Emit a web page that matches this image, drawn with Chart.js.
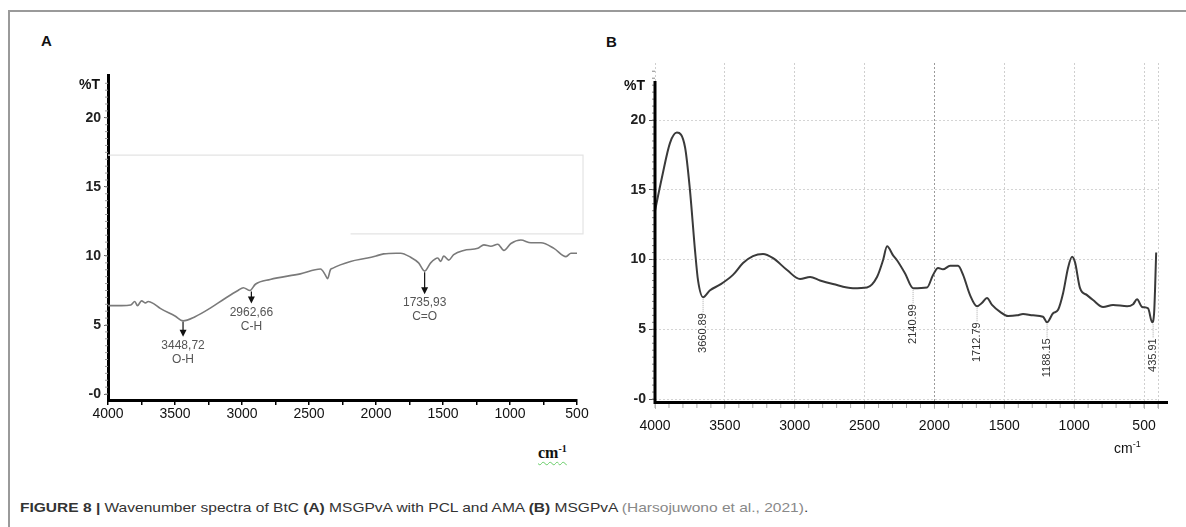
<!DOCTYPE html>
<html><head><meta charset="utf-8">
<script src="https://cdn.jsdelivr.net/npm/chart.js@4.4.0/dist/chart.umd.min.js"></script>
<style>
html,body{margin:0;padding:0;background:#fff;}
body{width:1186px;height:527px;position:relative;overflow:hidden;font-family:"Liberation Sans",Arial,sans-serif;}
#frameTop{position:absolute;left:8px;top:10px;width:1178px;height:2px;background:#9a9a9a;}
#frameLeft{position:absolute;left:8px;top:10px;width:2px;height:517px;background:#9a9a9a;}
.wrap{position:absolute;}
#wa{left:0;top:0;width:600px;height:440px;}
#wb{left:590px;top:0;width:596px;height:440px;}
.panel{position:absolute;font-weight:bold;font-size:15px;color:#111;}
#cmA{position:absolute;left:538px;top:443px;font-family:"Liberation Serif","DejaVu Serif",serif;font-weight:bold;font-size:16px;color:#111;text-decoration:underline wavy #6c6;text-underline-offset:3px;text-decoration-thickness:1px;}
#cmA sup{font-size:10px;}
#cmB{position:absolute;left:1114px;top:439px;font-size:14px;color:#111;}
#cmB sup{font-size:9px;}
#cap{position:absolute;left:20px;top:500px;font-size:13px;color:#333;white-space:nowrap;transform-origin:0 0;}
#cap .g{color:#888;}
</style></head>
<body>
<div id="frameTop"></div><div id="frameLeft"></div>
<div class="panel" style="left:41px;top:32px;">A</div>
<div class="panel" style="left:606px;top:33px;">B</div>
<div class="wrap" id="wa"><canvas id="ca" width="600" height="440"></canvas></div>
<div class="wrap" id="wb"><canvas id="cb" width="596" height="440"></canvas></div>
<div id="cmA">cm<sup>-1</sup></div>
<div id="cmB">cm<sup>-1</sup></div>
<div id="cap"><b>FIGURE 8 |</b> Wavenumber spectra of BtC <b>(A)</b> MSGPvA with PCL and AMA <b>(B)</b> MSGPvA <span class="g">(Harsojuwono et al., 2021)</span>.</div>
<script>
// ---------- data ----------
const wnA = [4000,3900,3830,3800,3780,3750,3720,3700,3660,3610,3500,3440,3350,3240,3130,3030,2990,2940,2900,2790,2565,2414,2377,2362,2340,2325,2190,2063,2000,1943,1850,1816,1741,1682,1637,1592,1539,1517,1495,1457,1420,1345,1240,1195,1143,1091,1046,993,919,844,769,672,582,545,500];
const tA = [6.4,6.4,6.45,6.7,6.4,6.75,6.6,6.7,6.55,6.2,5.65,5.3,5.6,6.2,6.9,7.5,7.7,7.5,7.95,8.3,8.7,9.05,8.6,8.35,9.0,9.1,9.6,9.85,10.0,10.15,10.2,10.2,9.9,9.5,8.9,9.5,9.85,9.6,10.0,9.7,10.1,10.4,10.55,10.8,10.7,10.85,10.4,10.9,11.15,10.95,10.95,10.55,9.95,10.2,10.2];

const wnB = [4000,3950,3893,3843,3785,3750,3714,3692,3656,3606,3535,3442,3370,3299,3227,3155,3055,2962,2890,2819,2726,2583,2483,2411,2368,2339,2296,2268,2210,2153,2053,2010,1974,1939,1888,1831,1795,1745,1695,1659,1624,1588,1530,1473,1409,1366,1294,1223,1194,1151,1115,1079,1044,1015,994,958,908,865,793,722,621,578,550,514,471,442,428,413];
const tB = [13.5,15.9,18.35,19.1,18.05,15.0,10.7,8.5,7.3,7.8,8.2,8.9,9.75,10.25,10.4,10.1,9.25,8.6,8.75,8.5,8.25,7.95,8.0,8.75,9.95,10.95,10.3,9.95,9.0,7.95,8.0,8.9,9.4,9.3,9.55,9.55,8.9,7.45,6.65,6.9,7.25,6.75,6.25,5.95,6.0,6.1,6.0,5.9,5.5,6.15,6.4,7.6,9.4,10.2,9.8,7.95,7.45,7.1,6.6,6.75,6.65,6.8,7.15,6.6,6.5,5.5,6.15,10.5];

const yTickVals = [0,5,10,15,20];
const xTicksA = [4000,3750,3500,3250,3000,2750,2500,2250,2000,1750,1500,1250,1000,750,500];
const xTicksB = [4000,3500,3000,2500,2000,1500,1000,500,400];

// annotated bands
const annWnA = [3440, 2930, 1637];
const annTA = [5.3, 7.5, 8.9];
const annLabA = ['3448,72', '2962,66', '1735,93'];
const annGrpA = ['O-H', 'C-H', 'C=O'];

const annWnB = [3656, 2153, 1695, 1194, 435];
const annTB = [7.3, 7.95, 6.65, 5.5, 5.5];
const annLabB = ['3660.89', '2140.99', '1712.79', '1188.15', '435.91'];

// faint box artefact in panel A
const boxWnA = [4000, 455, 455, 2190];
const boxTA = [17.3, 17.3, 11.6, 11.6];

// ---------- styles ----------
const arrowLenA = [15, 12, 22];
Chart.defaults.font.family = '"Liberation Sans", Arial, sans-serif';

function pts(w, t){ return w.map((v,i)=>({x:v, y:t[i]})); }

const plugA = {
  id:'plugA',
  beforeDatasetsDraw(chart){
    const {ctx, scales:{x,y}} = chart;
    ctx.save();
    ctx.strokeStyle = '#e4e4e4'; ctx.lineWidth = 1.2;
    ctx.beginPath();
    boxWnA.forEach((w,i)=>{ const px=x.getPixelForValue(w), py=y.getPixelForValue(boxTA[i]); i?ctx.lineTo(px,py):ctx.moveTo(px,py); });
    ctx.stroke();
    // minor ticks on y axis
    ctx.strokeStyle = '#999'; ctx.lineWidth = 1;
    const L = chart.chartArea.left;
    for(let v=0; v<=22.5; v+=0.5){ const py=y.getPixelForValue(v); ctx.beginPath(); ctx.moveTo(L-3,py); ctx.lineTo(L,py); ctx.stroke(); }
    ctx.restore();
  },
  afterDatasetsDraw(chart){
    const {ctx, scales:{x,y}} = chart;
    ctx.save();
    ctx.font = 'bold 14px "Liberation Sans", Arial, sans-serif';
    ctx.fillStyle = '#111'; ctx.textAlign='right'; ctx.textBaseline='middle';
    ctx.fillText('%T', chart.chartArea.left-8, y.getPixelForValue(22.4));
    annWnA.forEach((w,i)=>{
      const px = x.getPixelForValue(w), py = y.getPixelForValue(annTA[i]);
      const tip = py + 1 + arrowLenA[i];
      ctx.strokeStyle = '#111'; ctx.lineWidth = 1.2;
      ctx.beginPath(); ctx.moveTo(px, py+1); ctx.lineTo(px, tip-4); ctx.stroke();
      ctx.fillStyle = '#111';
      ctx.beginPath(); ctx.moveTo(px-3.5, tip-7); ctx.lineTo(px+3.5, tip-7); ctx.lineTo(px, tip); ctx.closePath(); ctx.fill();
      ctx.fillStyle = '#555'; ctx.textAlign='center';
      ctx.font = '12px "Liberation Sans", Arial, sans-serif';
      ctx.fillText(annLabA[i], px, tip+9);
      ctx.fillText(annGrpA[i], px, tip+23);
    });
    ctx.restore();
  }
};

const plugB = {
  id:'plugB',
  afterDatasetsDraw(chart){
    const {ctx, scales:{x,y}, chartArea:ca} = chart;
    ctx.save();
    // minor ticks
    ctx.strokeStyle = '#aaa'; ctx.lineWidth = 1;
    for(let v=4000; v>=400; v-=100){ const px=x.getPixelForValue(v); ctx.beginPath(); ctx.moveTo(px, ca.bottom+3); ctx.lineTo(px, ca.bottom+7); ctx.stroke(); }
    ctx.strokeStyle = '#888';
    for(let v=0; v<=23.5; v+=0.5){ const py=y.getPixelForValue(v); ctx.beginPath(); ctx.moveTo(ca.left-3,py); ctx.lineTo(ca.left,py); ctx.stroke(); }
    // axes
    ctx.strokeStyle = '#000'; ctx.lineWidth = 3;
    ctx.beginPath(); ctx.moveTo(ca.left, y.getPixelForValue(22.8)); ctx.lineTo(ca.left, ca.bottom+1.5); ctx.lineTo(ca.right+10, ca.bottom+1.5); ctx.stroke();
    // %T
    ctx.font = 'bold 14px "Liberation Sans", Arial, sans-serif';
    ctx.fillStyle = '#111'; ctx.textAlign='right'; ctx.textBaseline='middle';
    ctx.fillText('%T', ca.left-10, y.getPixelForValue(22.4));
    // peak labels
    ctx.font = '11px "Liberation Sans", Arial, sans-serif';
    annWnB.forEach((w,i)=>{
      const px = x.getPixelForValue(w), py = y.getPixelForValue(annTB[i]);
      const top = py + 16;
      ctx.strokeStyle = '#aaa'; ctx.lineWidth = 1; ctx.setLineDash([1,1]);
      ctx.beginPath(); ctx.moveTo(px, py+2); ctx.lineTo(px, top); ctx.stroke();
      ctx.setLineDash([]);
      ctx.save(); ctx.translate(px, top); ctx.rotate(-Math.PI/2);
      ctx.fillStyle = '#333'; ctx.textAlign='right'; ctx.textBaseline='middle';
      ctx.fillText(annLabB[i], 0, 0);
      ctx.restore();
    });
    ctx.restore();
  }
};

new Chart(document.getElementById('ca'), {
  type:'line',
  data:{datasets:[{data:pts(wnA,tA), borderColor:'#7a7a7a', borderWidth:1.6, pointRadius:0, cubicInterpolationMode:'monotone', fill:false}]},
  options:{
    responsive:false, animation:false, events:[],
    layout:{padding:{left:0, top:75, right:23, bottom:0}},
    plugins:{legend:{display:false}, tooltip:{enabled:false}},
    scales:{
      x:{type:'linear', reverse:true, min:500, max:4000,
        afterBuildTicks:s=>{ s.ticks = xTicksA.map(v=>({value:v})); },
        afterFit:s=>{ s.height = 40; },
        ticks:{autoSkip:false, maxRotation:0, padding:1, color:'#111', font:{size:14}, callback:v=> v%500===0 ? String(v) : ''},
        grid:{drawOnChartArea:false, drawTicks:true, tickLength:5, color:'#000', lineWidth:1.5},
        border:{display:true, color:'#000', width:3}},
      y:{min:-0.43, max:23.1,
        afterBuildTicks:s=>{ s.ticks = yTickVals.map(v=>({value:v})); },
        afterFit:s=>{ s.width = 108; },
        ticks:{padding:3, color:'#222', font:{size:14, weight:'bold'}, callback:v=> v===0 ? '-0' : String(v)},
        grid:{drawOnChartArea:false, drawTicks:true, tickLength:4, color:'#666', lineWidth:1},
        border:{display:true, color:'#000', width:3}}
    }
  },
  plugins:[plugA]
});

new Chart(document.getElementById('cb'), {
  type:'line',
  data:{datasets:[{data:pts(wnB,tB), borderColor:'#3a3a3a', borderWidth:2, pointRadius:0, cubicInterpolationMode:'monotone', fill:false}]},
  options:{
    responsive:false, animation:false, events:[],
    layout:{padding:{left:0, top:63, right:28, bottom:0}},
    plugins:{legend:{display:false}, tooltip:{enabled:false}},
    scales:{
      x:{type:'linear', reverse:true, min:400, max:4000,
        afterBuildTicks:s=>{ s.ticks = xTicksB.map(v=>({value:v})); },
        afterFit:s=>{ s.height = 39; },
        ticks:{autoSkip:false, maxRotation:0, padding:9, color:'#111', font:{size:14}, callback:v=> v===400 ? '' : String(v)},
        grid:{drawOnChartArea:true, drawTicks:true, tickLength:8, color:c=> (c.tick && c.tick.value===2000) ? '#9a9a9a' : '#cfcfcf', tickColor:'#bbb', lineWidth:1},
        border:{display:false, dash:[2,2]}},
      y:{min:-0.14, max:24.09,
        afterBuildTicks:s=>{ s.ticks = yTickVals.map(v=>({value:v})); },
        afterFit:s=>{ s.width = 65; },
        ticks:{padding:3, color:'#222', font:{size:14, weight:'bold'}, callback:v=> v===0 ? '-0' : String(v)},
        grid:{drawOnChartArea:true, drawTicks:true, tickLength:6, color:'#d4d4d4', tickColor:'#555', lineWidth:1},
        border:{display:false, dash:[2,2]}}
    }
  },
  plugins:[plugB]
});

// fit caption width to reference
const cap = document.getElementById('cap');
cap.style.transform = 'scaleX(' + (788 / cap.scrollWidth) + ')';
</script>
</body></html>
